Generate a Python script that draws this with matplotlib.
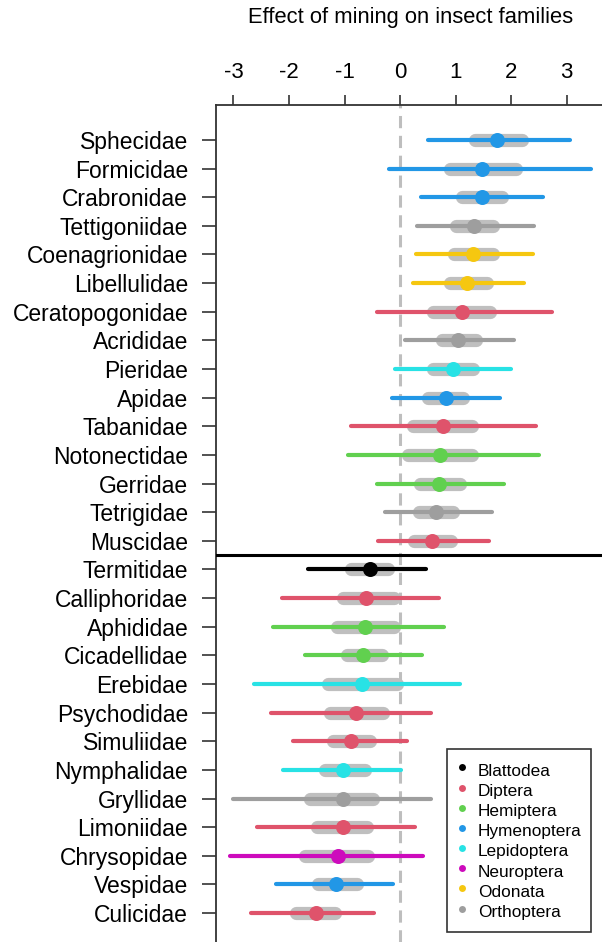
import matplotlib
matplotlib.use("Agg")
import matplotlib.pyplot as plt
from matplotlib.lines import Line2D

plt.rcParams["font.family"] = ["Liberation Sans", "DejaVu Sans"]

# families, top to bottom
families = ["Sphecidae", "Formicidae", "Crabronidae", "Tettigoniidae", "Coenagrionidae",
            "Libellulidae", "Ceratopogonidae", "Acrididae", "Pieridae", "Apidae",
            "Tabanidae", "Notonectidae", "Gerridae", "Tetrigidae", "Muscidae",
            "Termitidae", "Calliphoridae", "Aphididae", "Cicadellidae", "Erebidae",
            "Psychodidae", "Simuliidae", "Nymphalidae", "Gryllidae", "Limoniidae",
            "Chrysopidae", "Vespidae", "Culicidae"]
orders = ["Hymenoptera", "Hymenoptera", "Hymenoptera", "Orthoptera", "Odonata",
          "Odonata", "Diptera", "Orthoptera", "Lepidoptera", "Hymenoptera",
          "Diptera", "Hemiptera", "Hemiptera", "Orthoptera", "Diptera",
          "Blattodea", "Diptera", "Hemiptera", "Hemiptera", "Lepidoptera",
          "Diptera", "Diptera", "Lepidoptera", "Orthoptera", "Diptera",
          "Neuroptera", "Hymenoptera", "Diptera"]
effect = [1.74, 1.47, 1.47, 1.34, 1.32, 1.21, 1.11, 1.05, 0.95, 0.83,
          0.78, 0.72, 0.70, 0.65, 0.57, -0.54, -0.61, -0.63, -0.66, -0.68,
          -0.80, -0.89, -1.02, -1.02, -1.03, -1.12, -1.15, -1.51]
# outer interval (coloured line)
ci_lo = [0.50, -0.19, 0.38, 0.31, 0.28, 0.24, -0.41, 0.09, -0.09, -0.14,
         -0.89, -0.94, -0.42, -0.27, -0.39, -1.66, -2.13, -2.28, -1.71, -2.63,
         -2.33, -1.93, -2.11, -3.01, -2.58, -3.06, -2.23, -2.68]
ci_hi = [3.06, 3.45, 2.57, 2.42, 2.39, 2.23, 2.74, 2.05, 2.00, 1.81,
         2.45, 2.50, 1.88, 1.66, 1.61, 0.47, 0.71, 0.79, 0.39, 1.09,
         0.56, 0.12, 0.02, 0.56, 0.27, 0.41, -0.13, -0.46]
# inner interval (grey band)
band_lo = [1.35, 0.90, 1.11, 1.01, 0.97, 0.90, 0.60, 0.75, 0.60, 0.50,
           0.23, 0.14, 0.36, 0.35, 0.25, -0.89, -1.03, -1.14, -0.96, -1.29,
           -1.26, -1.21, -1.35, -1.62, -1.50, -1.71, -1.48, -1.88]
band_hi = [2.19, 2.09, 1.83, 1.68, 1.68, 1.56, 1.63, 1.37, 1.31, 1.14,
           1.29, 1.29, 1.09, 0.96, 0.91, -0.21, -0.11, -0.11, -0.33, -0.06,
           -0.30, -0.54, -0.63, -0.48, -0.59, -0.57, -0.78, -1.17]

legend_orders = ["Blattodea", "Diptera", "Hemiptera", "Hymenoptera",
                 "Lepidoptera", "Neuroptera", "Odonata", "Orthoptera"]
order_colors = {"Blattodea": "#000000", "Diptera": "#DF536B", "Hemiptera": "#61D04F",
                "Hymenoptera": "#2297E6", "Lepidoptera": "#28E2E5", "Neuroptera": "#CD0BBC",
                "Odonata": "#F5C710", "Orthoptera": "#9E9E9E"}
xticks = [-3, -2, -1, 0, 1, 2, 3]

W, H = 602, 942
fig = plt.figure(figsize=(W / 100, H / 100), dpi=100)
ax = fig.add_axes([216 / W, 0, 1 - 216 / W, 1 - 105 / H])

n = len(families)
ys = list(range(n))
ax.axvline(0, color="#BEBEBE", lw=2.2, ls=(0, (4, 2.5)), zorder=1)
for y, lo, hi, blo, bhi, est, od in zip(ys, ci_lo, ci_hi, band_lo, band_hi, effect, orders):
    c = order_colors[od]
    ax.plot([blo, bhi], [y, y], color="#BFBFBF", lw=9.5, solid_capstyle="round", zorder=2)
    ax.plot([lo, hi], [y, y], color=c, lw=3.0, solid_capstyle="round", zorder=3)
    ax.plot(est, y, "o", color=c, ms=10.8, mec="none", zorder=4)

ax.axhline(14.5, color="black", lw=2.2, zorder=5)

ax.set_xlim((216 - 400) / 55.5, (602 - 400) / 55.5)
ax.set_ylim(n - 1 + 1.01, -1.22)
ax.set_yticks(ys)
ax.set_yticklabels(families, fontsize=16.5)
ax.set_xticks(xticks)
ax.set_xticklabels([str(t) for t in xticks], fontsize=16)
ax.xaxis.tick_top()
ax.tick_params(axis="x", length=7, width=1.2, pad=8.5, color="#333333")
ax.tick_params(axis="y", length=10, width=1.2, pad=10, color="#333333")
for s in ("right", "bottom"):
    ax.spines[s].set_visible(False)
for s in ("left", "top"):
    ax.spines[s].set_linewidth(1.3)
    ax.spines[s].set_color("#333333")

fig.text(411 / W, 1 - 18 / H, "Effect of mining on insect families",
         ha="center", va="center", fontsize=15.8)

handles = [Line2D([], [], ls="none", marker="o", ms=5, mec="none",
                  color=order_colors[o]) for o in legend_orders]
leg = ax.legend(handles, legend_orders, loc="upper left",
                bbox_to_anchor=(447 / W, 1 - 749 / H), bbox_transform=fig.transFigure,
                borderaxespad=0, fontsize=12.4, frameon=True, fancybox=False,
                handlelength=0.6, handletextpad=0.6, handleheight=1.61,
                labelspacing=-0.12, borderpad=0.58)
leg.get_frame().set_edgecolor("black")
leg.get_frame().set_linewidth(1.2)

fig.savefig("out.png", dpi=100)
